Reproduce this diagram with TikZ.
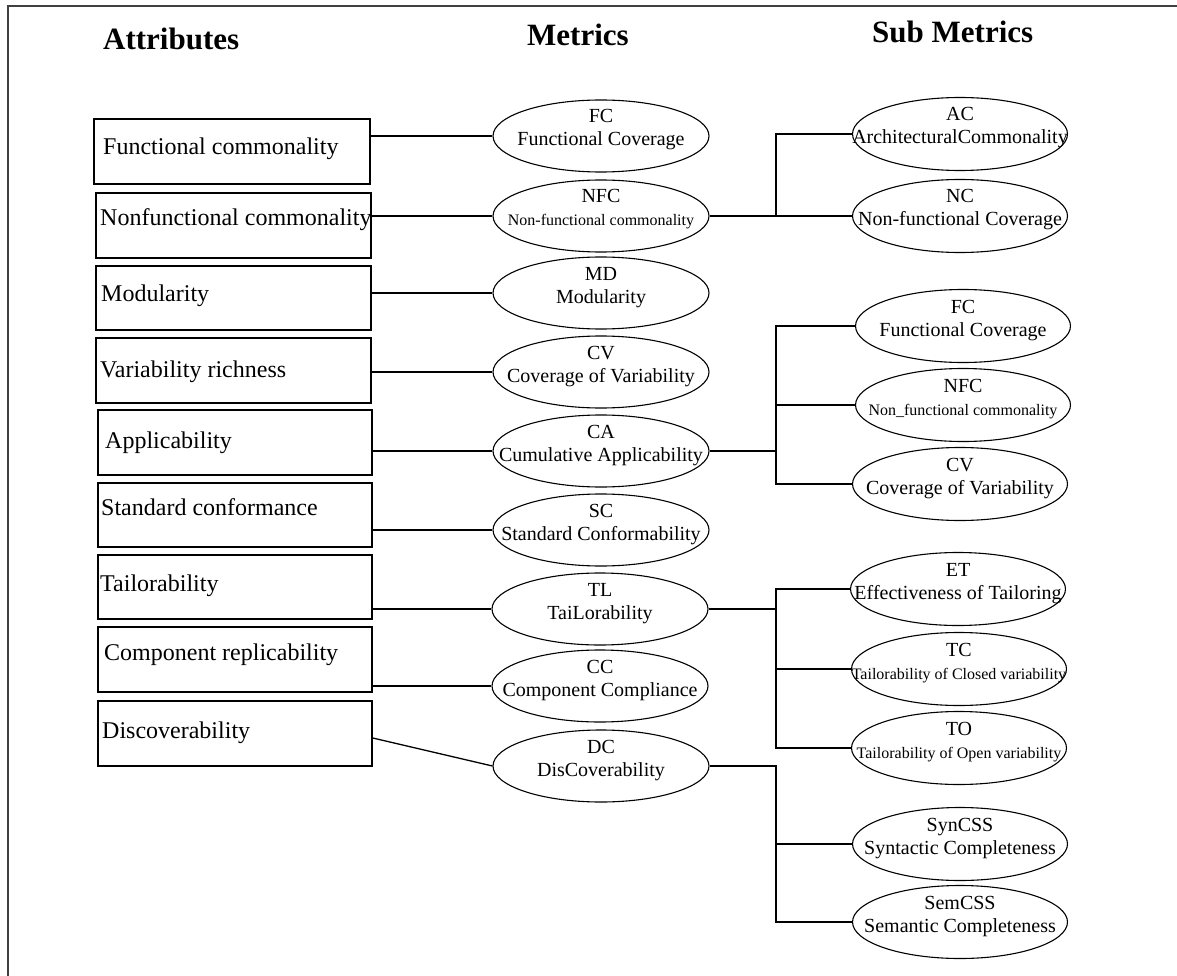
\documentclass[tikz,border=0pt]{standalone}
\usepackage{fontspec}
\setmainfont{Liberation Serif}
\usetikzlibrary{shapes.geometric,calc}

\tikzset{
  frameline/.style={line width=2pt, draw=black!75},
  attrbox/.style={draw, rectangle, line width=1.6pt, inner sep=0pt, anchor=north west},
  metricoval/.style={draw, ellipse, line width=1.1pt, minimum width=216pt, minimum height=72pt, inner sep=0pt},
  suboval/.style={metricoval, minimum width=215pt, minimum height=73pt},
  link/.style={line width=1.3pt},
  heading/.style={font=\fontsize{31}{36}\selectfont\bfseries, anchor=base west, inner sep=0pt},
  attrtext/.style={font=\fontsize{24}{28}\selectfont, anchor=base west, inner sep=0pt},
  ovaltext/.style={font=\fontsize{20}{24}\selectfont, anchor=base, inner sep=0pt},
}

% oval with an acronym line and a full-name line
% #1 style, #2 node name, #3 centre, #4 acronym, #5 full name
\newcommand\ovalnode[5]{%
  \node[#1] (#2) at (#3) {};
  \node[ovaltext] at ($(#2.center)+(0,-13)$) {#4};
  \node[ovaltext] at ($(#2.center)+(0,10)$) {#5};
}
\newcommand\smallname{\fontsize{16}{19}\selectfont}

\begin{document}
\begin{tikzpicture}[x=1pt, y=-1pt]
\useasboundingbox (0,0) rectangle (1177,976);

% page frame (top and left edges)
\draw[frameline] (1180,6) -- (8,6) -- (8,980);

% column headings
\node[heading] (hattr) at (103,50) {Attributes};
\node[heading] (hmet)  at (527,46) {Metrics};
\node[heading] (hsub)  at (872,43) {Sub Metrics};

% attribute boxes
\node[attrbox, minimum width=276pt, minimum height=65pt] (b1) at (93,118) {};
\node[attrbox, minimum width=275pt, minimum height=65pt] (b2) at (95,192) {};
\node[attrbox, minimum width=275pt, minimum height=64pt] (b3) at (95,265) {};
\node[attrbox, minimum width=275pt, minimum height=65pt] (b4) at (95,337) {};
\node[attrbox, minimum width=274pt, minimum height=65pt] (b5) at (97,409) {};
\node[attrbox, minimum width=274pt, minimum height=64pt] (b6) at (97,482) {};
\node[attrbox, minimum width=274pt, minimum height=64pt] (b7) at (97,554) {};
\node[attrbox, minimum width=274pt, minimum height=65pt] (b8) at (97,626) {};
\node[attrbox, minimum width=274pt, minimum height=65pt] (b9) at (97,700) {};

\node[attrtext] (t1) at (103,155) {Functional commonality};
\node[attrtext] (t2) at (100,226) {Nonfunctional commonality};
\node[attrtext] (t3) at (101,301) {Modularity};
\node[attrtext] (t4) at (100,377) {Variability richness};
\node[attrtext] (t5) at (105,448) {Applicability};
\node[attrtext] (t6) at (101,515) {Standard conformance};
\node[attrtext] (t7) at (100,591) {Tailorability};
\node[attrtext] (t8) at (104,660) {Component replicability};
\node[attrtext] (t9) at (102,738) {Discoverability};

% metrics
\ovalnode{metricoval}{fc}{601,136}{FC}{Functional Coverage}
\ovalnode{metricoval}{nfc}{601,216}{NFC}{\smallname Non-functional commonality}
\ovalnode{metricoval}{md}{601,293}{MD}{Modularity}
\ovalnode{metricoval}{cv}{601,372}{CV}{Coverage of Variability}
\ovalnode{metricoval}{ca}{601,451}{CA}{Cumulative Applicability}
\ovalnode{metricoval}{sc}{601,530}{SC}{Standard Conformability}
\ovalnode{metricoval}{tl}{600,609}{TL}{TaiLorability}
\ovalnode{metricoval}{cc}{600,686}{CC}{Component Compliance}
\ovalnode{metricoval}{dc}{601,766}{DC}{DisCoverability}

% sub metrics
\ovalnode{suboval}{ac}{960,134}{AC}{ArchitecturalCommonality}
\ovalnode{suboval}{nc}{960,216}{NC}{Non-functional Coverage}
\ovalnode{suboval}{fcs}{963,326}{FC}{Functional Coverage}
\ovalnode{suboval}{nfcs}{963,405}{NFC}{\smallname Non\_functional commonality}
\ovalnode{suboval}{cvs}{960,484}{CV}{Coverage of Variability}
\ovalnode{suboval}{et}{958,589}{ET}{Effectiveness of Tailoring}
\ovalnode{suboval}{tc}{959,669}{TC}{\smallname Tailorability of Closed variability}
\ovalnode{suboval}{to}{959,748}{TO}{\smallname Tailorability of Open variability}
\ovalnode{suboval}{syn}{960,844}{SynCSS}{Syntactic Completeness}
\ovalnode{suboval}{sem}{960,922}{SemCSS}{Semantic Completeness}

% attribute -> metric links
\foreach \b/\m in {b1/fc, b2/nfc, b3/md, b4/cv, b5/ca, b6/sc, b7/tl, b8/cc}
  \draw[link] (\b.east |- \m.west) -- (\m.west);
\draw[link] ($(b9.north east)!0.57!(b9.south east)$) -- (dc.west);

% metric -> sub metric branches
\coordinate (jx) at (776,0);
\draw[link] (nfc.east) -- (nc.west);
\draw[link] (ac.west) -| (jx |- nfc.east);

\draw[link] (ca.east) -- (jx |- ca.east);
\draw[link] (fcs.west) -| (jx |- cvs.west) -- (cvs.west);
\draw[link] (nfcs.west) -- (jx |- nfcs.west);

\draw[link] (tl.east) -- (jx |- tl.east);
\draw[link] (et.west) -| (jx |- to.west) -- (to.west);
\draw[link] (tc.west) -- (jx |- tc.west);

\draw[link] (dc.east) -- (jx |- dc.east) -- (jx |- sem.west) -- (sem.west);
\draw[link] (syn.west) -- (jx |- syn.west);
\end{tikzpicture}
\end{document}
